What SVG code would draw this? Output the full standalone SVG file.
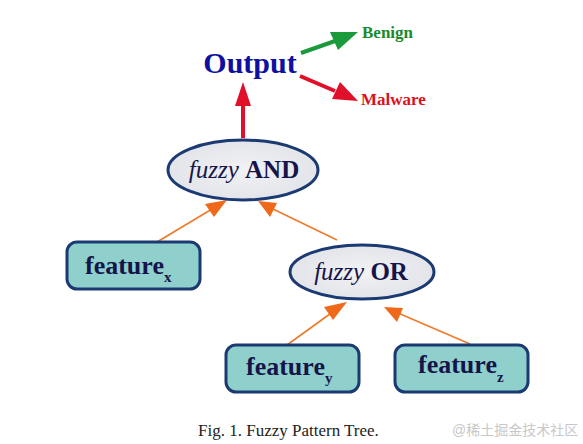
<svg xmlns="http://www.w3.org/2000/svg" width="583" height="444" viewBox="0 0 583 444">
<style>
.ser{font-family:"Liberation Serif","Times New Roman",serif}
.box{fill:#8fd0cc;stroke:#1b3a72;stroke-width:3}
.ell{fill:url(#eg);stroke:#1b3a72;stroke-width:3}
.ft{font-family:"Liberation Serif",serif;font-weight:bold;font-size:26px;fill:#15154a}
.sub{font-size:15px}
.or{stroke:#ee7a2a;stroke-width:1.6;fill:none}
.orh{fill:#ee6a1a}
</style>
<defs>
<radialGradient id="eg" cx="0.5" cy="0.5" r="0.6">
<stop offset="0" stop-color="#f2f2f4"/>
<stop offset="1" stop-color="#e0e2e8"/>
</radialGradient>
</defs>
<rect width="583" height="444" fill="#fff"/>
<g id="connectors">
<line x1="243" y1="138" x2="243" y2="103" stroke="#e0102a" stroke-width="4"/>
<polygon points="243,82 235,106 251,106" fill="#e0102a"/>
<line x1="301" y1="53" x2="335" y2="41" stroke="#1a9a3a" stroke-width="4"/>
<polygon points="358,32 330,32 338,50" fill="#1a9a3a"/>
<line x1="300" y1="76" x2="335" y2="91" stroke="#e0102a" stroke-width="4"/>
<polygon points="358,101 340,82 332,99" fill="#e0102a"/>
<line class="or" x1="157" y1="242" x2="212" y2="209"/>
<polygon class="orh" points="227,200 205,204 214,217"/>
<line class="or" x1="337" y1="240" x2="273" y2="209"/>
<polygon class="orh" points="258,201 270,217 277,203"/>
<line class="or" x1="287" y1="345" x2="334" y2="311"/>
<polygon class="orh" points="347,302 324,307 333,320"/>
<line class="or" x1="470" y1="344" x2="398" y2="313"/>
<polygon class="orh" points="384,307 397,322 403,308"/>
</g>
<g id="output">
<text class="ser" x="250" y="73" text-anchor="middle" font-size="30" font-weight="bold" fill="#1010a0">Output</text>
</g>
<g id="benign">
<text class="ser" x="362" y="38" font-size="17" font-weight="bold" fill="#1a8a2a">Benign</text>
</g>
<g id="malware">
<text class="ser" x="361" y="105" font-size="17" font-weight="bold" fill="#dd1020">Malware</text>
</g>
<g id="fuzzyAND">
<ellipse class="ell" cx="243" cy="170" rx="75" ry="30"/>
<text class="ser" x="244" y="178" text-anchor="middle" font-size="25" fill="#15154a"><tspan font-style="italic">fuzzy</tspan> <tspan font-weight="bold">AND</tspan></text>
</g>
<g id="fuzzyOR">
<ellipse class="ell" cx="362" cy="272" rx="72" ry="27"/>
<text class="ser" x="361" y="280" text-anchor="middle" font-size="25" fill="#15154a"><tspan font-style="italic">fuzzy</tspan> <tspan font-weight="bold">OR</tspan></text>
</g>
<g id="featureX">
<rect class="box" x="67" y="242" width="133" height="47" rx="10"/>
<text class="ft" x="85" y="274">feature<tspan class="sub" dy="8">x</tspan></text>
</g>
<g id="featureY">
<rect class="box" x="226" y="345" width="133" height="47" rx="10"/>
<text class="ft" x="246" y="375">feature<tspan class="sub" dy="8">y</tspan></text>
</g>
<g id="featureZ">
<rect class="box" x="395" y="345" width="133" height="47" rx="10"/>
<text class="ft" x="418" y="373">feature<tspan class="sub" dy="9">z</tspan></text>
</g>
<text class="ser" x="198" y="436" font-size="17" fill="#222">Fig. 1.  Fuzzy Pattern Tree.</text>
<text x="452" y="435" font-family="Liberation Sans,Noto Sans CJK SC,sans-serif" font-size="14" fill="#c8c8c8">@稀土掘金技术社区</text>
</svg>
